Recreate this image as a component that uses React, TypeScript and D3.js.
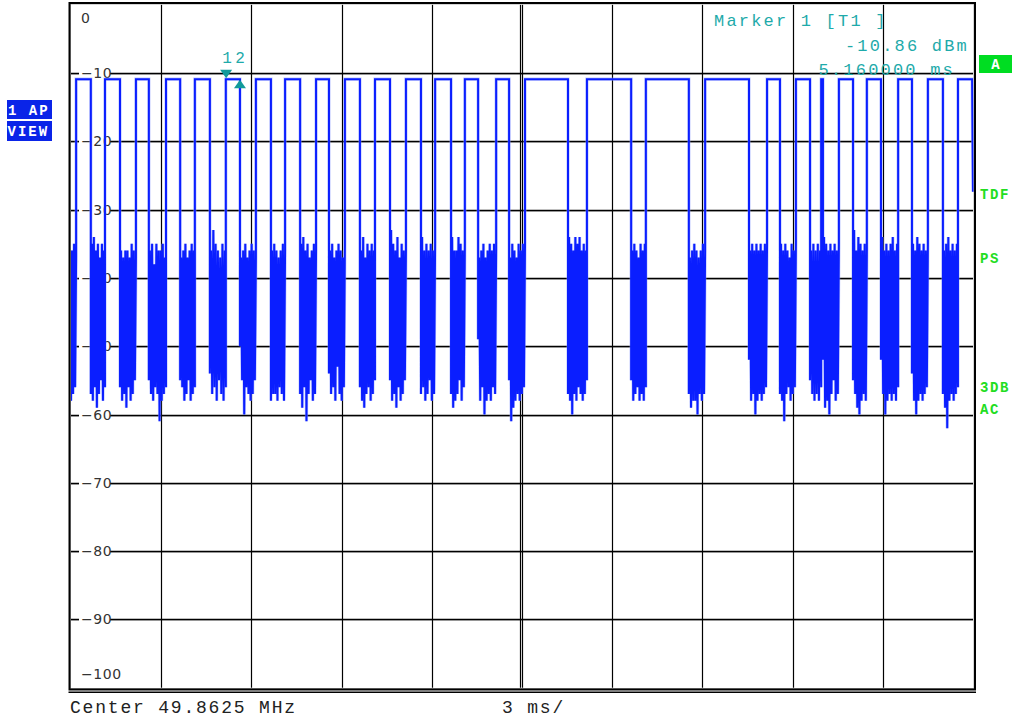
import React from 'react';
import * as d3 from 'd3';

// ── Data ─────────────────────────────────────────────────────────────
// Zero-span sweep, 3 ms/div over 10 divisions, ref level 0 dBm, 10 dB/div.
const SWEEP_MS = 30;
const BURST_LEVEL = -10.9;
const END_LEVEL = -27.4;

const yTicks = [0, -10, -20, -30, -40, -50, -60, -70, -80, -90, -100];
const yTickLabels = ['0', '-10', '-20', '-30', '-40', '-50', '-60', '-70', '-80', '-90', '-100'];

// "off" intervals of the burst signal (ms): start / end
const gapStart = [0, 0.66, 1.63, 2.59, 3.63, 4.62, 5.62, 6.65, 7.62, 8.58, 9.61, 10.61, 11.64, 12.64, 13.54, 14.57, 16.53, 18.63, 20.55, 22.55, 23.58, 24.58, 25.01, 26.01, 26.94, 27.97, 29.0];
const gapEnd = [0.17, 1.13, 2.16, 3.16, 4.12, 5.15, 6.15, 7.12, 8.15, 9.11, 10.11, 11.14, 12.11, 13.1, 14.14, 15.1, 17.16, 19.12, 21.09, 23.15, 24.11, 24.95, 25.54, 26.47, 27.51, 28.5, 29.5];
const lastBurstEnd = 29.97;

// auto-peak noise samples inside each gap (dBm), alternating max / min
const gapNoise = [
  [-58, -36, -57, -35, -56, -37],
  [-57, -35, -58, -34, -56, -36, -59, -35, -57, -37, -55, -35, -58, -36, -56],
  [-56, -36, -58, -37, -57, -36, -59, -36, -56, -37, -58, -35, -57, -36, -55, -37],
  [-55, -36, -57, -35, -58, -38, -56, -35, -57, -36, -61, -36, -58, -35, -57, -37, -56],
  [-55, -37, -56, -36, -58, -35, -57, -37, -55, -36, -58, -35, -57, -36, -56],
  [-54, -36, -57, -33, -56, -35, -58, -36, -55, -37, -57, -35, -58, -36, -56],
  [-50, -37, -55, -36, -60, -35, -56, -37, -57, -36, -58, -35, -57, -36, -55, -37],
  [-58, -36, -57, -35, -57, -36, -58, -37, -56, -36, -57, -35, -58, -36],
  [-57, -35, -59, -34, -56, -36, -61, -35, -57, -37, -55, -36, -58, -35, -57, -36],
  [-54, -36, -57, -35, -56, -37, -58, -36, -53, -35, -57, -36, -58, -37, -56, -35],
  [-56, -36, -58, -34, -59, -37, -57, -35, -56, -36, -58, -35, -57, -36, -55],
  [-55, -33, -58, -35, -57, -36, -59, -34, -56, -37, -58, -35, -57, -36, -55, -36],
  [-57, -34, -56, -36, -58, -35, -57, -36, -55, -35, -58, -36, -57, -35],
  [-57, -34, -59, -36, -58, -36, -57, -34, -55, -35, -58, -36, -56, -35],
  [-49, -37, -58, -36, -56, -35, -60, -37, -58, -36, -57, -35, -58, -36, -56, -35, -57, -36],
  [-55, -37, -61, -35, -59, -36, -58, -37, -57, -35, -58, -36, -57, -35, -56, -35],
  [-57, -34, -58, -35, -60, -36, -57, -34, -58, -35, -56, -34, -57, -36, -58, -35, -57, -36, -55],
  [-55, -36, -58, -35, -57, -36, -56, -37, -58, -35, -57, -36, -58, -35, -56],
  [-57, -37, -59, -36, -58, -35, -58, -36, -60, -37, -57, -36, -58, -35, -57, -36],
  [-52, -36, -58, -35, -57, -36, -60, -35, -58, -36, -57, -35, -58, -36, -57, -35, -56, -35],
  [-57, -35, -58, -36, -61, -35, -57, -36, -56, -37, -58, -35, -57, -36, -56, -35],
  [-55, -36, -57, -35, -58, -36, -57, -35, -58, -36, -56],
  [-52, -34, -59, -35, -58, -36, -60, -35, -57, -36, -55, -35, -58, -36, -57, -35],
  [-55, -33, -57, -36, -59, -34, -60, -35, -58, -36, -57, -35, -58, -36],
  [-52, -34, -57, -36, -60, -35, -58, -36, -57, -35, -58, -34, -57, -36, -58, -35, -56],
  [-54, -35, -58, -36, -60, -34, -58, -35, -57, -36, -58, -35, -57, -36, -56, -35],
  [-57, -36, -59, -35, -62, -34, -58, -36, -57, -35, -58, -36, -57, -35, -56],
];

const marker1 = { t: 5.16, level: -10.86 };
const marker2 = { t: 5.62, level: -10.9 };

// ── Layout ───────────────────────────────────────────────────────────
const W = 1014;
const H = 719;
const X0 = 71;
const X1 = 973;
const Y0 = 4.7;
const Y1 = 687.7;

const MONO = '"Liberation Mono", "DejaVu Sans Mono", monospace';
const TEAL = '#1eaaaa';
const GREEN = '#22dd22';
const BLUE = '#0a24e8';

export default function App() {
  const x = d3.scaleLinear().domain([0, SWEEP_MS]).range([X0, X1]);
  const y = d3.scaleLinear().domain([0, -100]).range([Y0, Y1]);

  // build trace: bursts at BURST_LEVEL, noise inside gaps
  const pts: [number, number][] = [];
  gapNoise.forEach((vals, i) => {
    const s = gapStart[i];
    const e = gapEnd[i];
    if (i > 0) pts.push([s, BURST_LEVEL]);
    vals.forEach((v, k) => {
      pts.push([s + ((e - s) * k) / (vals.length - 1), v]);
    });
    pts.push([e, BURST_LEVEL]);
  });
  pts.push([lastBurstEnd, BURST_LEVEL]);
  pts.push([SWEEP_MS, END_LEVEL]);

  const line = d3
    .line<[number, number]>()
    .x((d) => x(d[0]))
    .y((d) => y(d[1]));
  const traceD = line(pts) || '';

  const xGrid = d3.range(1, 10).map((i) => (i * SWEEP_MS) / 10);
  const hGrid = yTicks.slice(1, -1);

  return (
    <svg
      width={W}
      height={H}
      style={{ position: 'absolute', left: 0, top: 0, background: '#fff' }}
    >
      <rect x={0} y={0} width={W} height={H} fill="#fff" />

      {/* grid */}
      {hGrid.map((v) => (
        <g key={'h' + v}>
          <line x1={X0} x2={X1} y1={Math.round(y(v)) + 1.5} y2={Math.round(y(v)) + 1.5} stroke="#c8c8c8" />
          <line x1={X0} x2={X1} y1={Math.round(y(v)) + 0.5} y2={Math.round(y(v)) + 0.5} stroke="#000" strokeWidth={1.3} />
        </g>
      ))}
      {xGrid.map((t) => (
        <line
          key={'v' + t}
          x1={Math.round(x(t)) + 0.5}
          x2={Math.round(x(t)) + 0.5}
          y1={Y0}
          y2={Y1}
          stroke="#000"
          strokeWidth={1.2}
        />
      ))}
      {/* double centre line */}
      <line x1={Math.round(x(15)) - 1.5} x2={Math.round(x(15)) - 1.5} y1={Y0} y2={Y1} stroke="#000" strokeWidth={1.2} />

      {/* y labels */}
      {yTicks.map((v, i) => {
        const ly = i === 0 ? 18 : i === yTicks.length - 1 ? 674 : y(v);
        const lab = yTickLabels[i];
        const w = lab.length * 9 + 4;
        return (
          <g key={'l' + v}>
            <rect x={79} y={ly - 8} width={w} height={16} fill="#fff" />
            <text
              x={81}
              y={ly + 5}
              fontFamily='"DejaVu Sans", sans-serif'
              fontSize={14}
              fill="#333"
              letterSpacing={0.6}
            >
              {lab.replace('-', '\u2212')}
            </text>
          </g>
        );
      })}

      {/* trace */}
      <path d={traceD} fill="none" stroke="#8c9cff" strokeWidth={3.2} opacity={0.55} />
      <path d={traceD} fill="none" stroke="#0a1eff" strokeWidth={2} />

      {/* frame */}
      <rect x={X0 - 0.5} y={Y0 - 0.7} width={X1 - X0 + 1.5} height={Y1 - Y0 + 1.5} fill="none" stroke="#aaa" strokeWidth={1} />
      <rect x={X0 - 1.5} y={Y0 - 1.7} width={X1 - X0 + 3.5} height={Y1 - Y0 + 3.5} fill="none" stroke="#000" strokeWidth={2} />
      <line x1={X0 - 2.5} x2={X1 + 3} y1={Y1 + 4.5} y2={Y1 + 4.5} stroke="#000" strokeWidth={1.5} />

      {/* markers */}
      <path
        d={`M${x(marker1.t) - 6},${y(marker1.level) - 9} L${x(marker1.t) + 6},${y(marker1.level) - 9} L${x(marker1.t)},${y(marker1.level) - 0.5} Z`}
        fill="#119a9a"
      />
      <path
        d={`M${x(marker2.t) - 6},${y(marker2.level) + 9} L${x(marker2.t) + 6},${y(marker2.level) + 9} L${x(marker2.t)},${y(marker2.level) + 0.5} Z`}
        fill="#119a9a"
      />
      <text x={x(marker1.t) + 1} y={63} fontFamily={MONO} fontSize={16} fill={TEAL} textAnchor="middle">1</text>
      <text x={x(marker2.t)} y={63} fontFamily={MONO} fontSize={16} fill={TEAL} textAnchor="middle">2</text>

      {/* marker readout */}
      <g fontFamily={MONO} fontSize={17} fill={TEAL} letterSpacing={2.2}>
        <text x={714} y={26}>Marker 1 [T1 ]</text>
        <text x={969} y={51} textAnchor="end">{marker1.level.toFixed(2)} dBm</text>
        <text x={955} y={75} textAnchor="end">{marker1.t.toFixed(6)} ms</text>
      </g>

      {/* left badges */}
      <rect x={7} y={100} width={45} height={19} fill={BLUE} />
      <rect x={7} y={121} width={45} height={20} fill={BLUE} />
      <g fontFamily={MONO} fontSize={14} fontWeight="bold" fill="#fff" letterSpacing={2}>
        <text x={8} y={115}>1 AP</text>
        <text x={7.5} y={136}>VIEW</text>
      </g>

      {/* right side */}
      <rect x={979} y={55} width={33} height={18} fill="#00dd22" />
      <text x={995.5} y={69} fontFamily={MONO} fontSize={14} fontWeight="bold" fill="#fff" textAnchor="middle">A</text>
      <g fontFamily={MONO} fontSize={14} fontWeight="bold" fill={GREEN} letterSpacing={1.6}>
        <text x={980} y={199}>TDF</text>
        <text x={980} y={263}>PS</text>
        <text x={980} y={392}>3DB</text>
        <text x={980} y={414}>AC</text>
      </g>

      {/* bottom */}
      <g fontFamily={MONO} fontSize={18} fill="#222" letterSpacing={1.8}>
        <text x={70} y={713}>Center 49.8625 MHz</text>
        <text x={502} y={713}>3 ms/</text>
      </g>
    </svg>
  );
}
